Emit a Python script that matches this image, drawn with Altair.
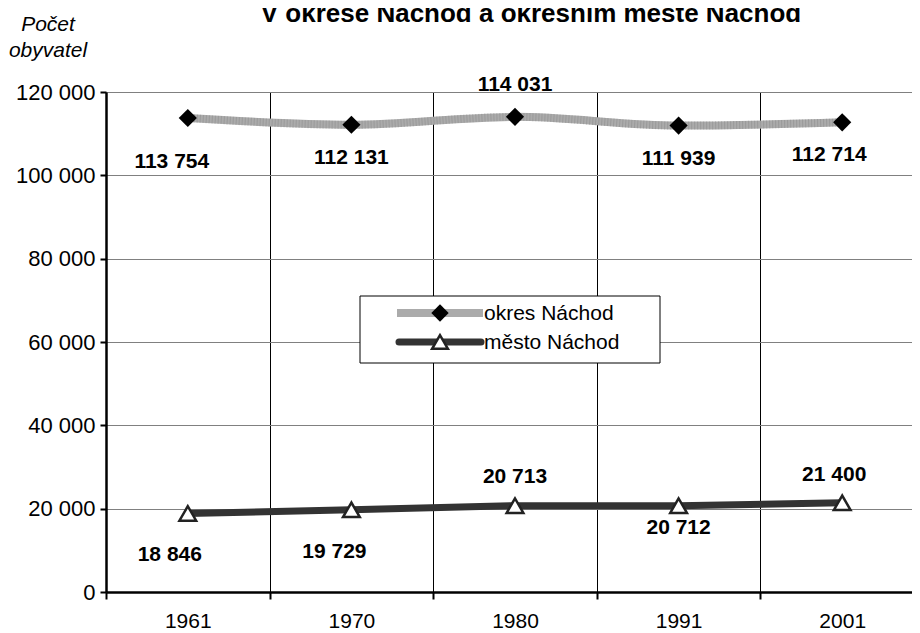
import altair as alt
import pandas as pd

# ---- data ----
years = ["1961", "1970", "1980", "1991", "2001"]
okres_values = [113754, 112131, 114031, 111939, 112714]
mesto_values = [18846, 19729, 20713, 20712, 21400]
series_names = ["okres Náchod", "město Náchod"]
title_text = "V okrese Náchod a okresním městě Náchod"
y_title_text = "Počet\nobyvatel"
y_ticks = [0, 20000, 40000, 60000, 80000, 100000, 120000]

# label placement (pixels, styling only)
okres_label_dx = [-16, 0, 0, 0, -13]
okres_label_dy = [44, 33, -32, 33, 33]
mesto_label_dx = [-18, -17, 0, 0, -8]
mesto_label_dy = [42, 42, -29, 22, -28]

FONT = "Liberation Sans"


def fmt(v):
    return f"{v:,}".replace(",", " ")


okres_df = pd.DataFrame({"year": years, "value": okres_values,
                         "label": [fmt(v) for v in okres_values]})
mesto_df = pd.DataFrame({"year": years, "value": mesto_values,
                         "label": [fmt(v) for v in mesto_values]})

W, H = 806, 500
BAND_RANGE = 818

x_enc = alt.X(
    "year:N",
    sort=years,
    scale=alt.Scale(domain=years, range=[0, BAND_RANGE], paddingInner=0, paddingOuter=0),
    axis=alt.Axis(
        title=None, tickBand="extent", labelAngle=0,
        labelAlign="center", labelBaseline="top", labelOverlap=False,
        grid=True, gridColor="#000000", gridWidth=1, gridOpacity=1,
        tickSize=7, tickWidth=2, tickColor="#000000",
        domainColor="#000000", domainWidth=2.5,
        labelFont=FONT, labelFontSize=21, labelColor="#000000", labelPadding=11,
    ),
)
y_enc = alt.Y(
    "value:Q",
    scale=alt.Scale(domain=[0, 120000], nice=False),
    axis=alt.Axis(
        title=None, values=y_ticks,
        labelExpr="replace(format(datum.value, ','), ',', ' ')",
        grid=True, gridColor="#808080", gridWidth=1, gridOpacity=1,
        tickSize=6, tickWidth=2, tickColor="#000000",
        domainColor="#000000", domainWidth=2.5,
        labelFont=FONT, labelFontSize=22, labelColor="#000000", labelPadding=5,
    ),
)

okres_line = alt.Chart(okres_df).mark_line(
    color="#ababab", strokeWidth=8, interpolate="monotone"
).encode(x=x_enc, y=y_enc)
okres_tex = alt.Chart(okres_df).mark_line(
    color="#8a8a8a", strokeWidth=8, interpolate="monotone", strokeDash=[1, 2], opacity=0.5
).encode(x=x_enc, y=y_enc)
okres_pts = alt.Chart(okres_df).mark_point(
    shape="diamond", filled=True, color="#000000", size=330, opacity=1
).encode(x=x_enc, y=y_enc)

mesto_line = alt.Chart(mesto_df).mark_line(
    color="#333333", strokeWidth=7, strokeCap="round"
).encode(x=x_enc, y=y_enc)
mesto_pts = alt.Chart(mesto_df).mark_point(
    shape="triangle-up", filled=True, fill="#ffffff", stroke="#222222",
    strokeWidth=2.5, size=280, opacity=1
).encode(x=x_enc, y=y_enc)


def label_layers(df, dxs, dys):
    layers = []
    for yr, dx, dy in zip(years, dxs, dys):
        layers.append(
            alt.Chart(df).transform_filter(alt.datum.year == yr).mark_text(
                font=FONT, fontSize=21, fontWeight="bold", color="#000000",
                baseline="middle", dx=dx, dy=dy,
            ).encode(x=x_enc, y=y_enc, text="label:N")
        )
    return layers


label_marks = label_layers(okres_df, okres_label_dx, okres_label_dy) + \
    label_layers(mesto_df, mesto_label_dx, mesto_label_dy)

# ---- legend (manual) ----
leg_df = pd.DataFrame({"name": series_names})
leg_okres = alt.Chart(leg_df).transform_filter(alt.datum.name == series_names[0])
leg_mesto = alt.Chart(leg_df).transform_filter(alt.datum.name == series_names[1])

leg_box = alt.Chart(leg_df.head(1)).mark_rect(
    fill="#ffffff", stroke="#000000", strokeWidth=1
).encode(x=alt.value(254), x2=alt.value(554), y=alt.value(204), y2=alt.value(271))

leg_l1 = leg_okres.mark_rule(color="#ababab", strokeWidth=8).encode(
    x=alt.value(291), x2=alt.value(377), y=alt.value(221))
leg_p1 = leg_okres.mark_point(shape="diamond", filled=True, color="#000000", size=300, opacity=1).encode(
    x=alt.value(334), y=alt.value(221))
leg_t1 = leg_okres.mark_text(font=FONT, fontSize=21, align="left", baseline="middle", color="#000000").encode(
    x=alt.value(378), y=alt.value(222), text="name:N")

leg_l2 = leg_mesto.mark_rule(color="#333333", strokeWidth=7, strokeCap="round").encode(
    x=alt.value(293), x2=alt.value(375), y=alt.value(250))
leg_p2 = leg_mesto.mark_point(shape="triangle-up", filled=True, fill="#ffffff", stroke="#222222",
                              strokeWidth=2.5, size=250, opacity=1).encode(
    x=alt.value(334), y=alt.value(250))
leg_t2 = leg_mesto.mark_text(font=FONT, fontSize=21, align="left", baseline="middle", color="#000000").encode(
    x=alt.value(378), y=alt.value(251), text="name:N")

# ---- titles ----
title_df = pd.DataFrame({"t": [title_text]})
title_mark = alt.Chart(title_df).mark_text(
    font=FONT, fontSize=26, fontWeight="bold", align="center", baseline="alphabetic", color="#000000"
).encode(x=alt.value(425), y=alt.value(-70), text="t:N")

ytitle_df = pd.DataFrame({"t": [y_title_text]})
ytitle_mark = alt.Chart(ytitle_df).mark_text(
    font=FONT, fontSize=21, fontStyle="italic", align="center", baseline="middle",
    lineBreak="\n", lineHeight=26, color="#000000"
).encode(x=alt.value(-58), y=alt.value(-67), text="t:N")

chart = alt.layer(
    okres_line, okres_tex, mesto_line, okres_pts, mesto_pts, *label_marks,
    leg_box, leg_l1, leg_p1, leg_t1, leg_l2, leg_p2, leg_t2,
    title_mark, ytitle_mark,
).properties(
    width=W, height=H,
    autosize=alt.AutoSizeParams(type="none"),
    padding={"left": 98, "top": 84, "right": 0, "bottom": 41},
).configure_view(stroke=None).configure(background="#ffffff")

chart.save("out.html", embed_options={"renderer": "svg", "actions": False})
